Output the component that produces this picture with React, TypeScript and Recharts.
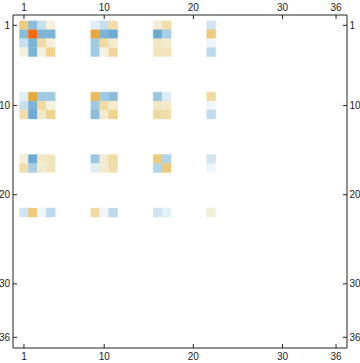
import React from 'react'
import { ScatterChart, Scatter, XAxis, YAxis, ReferenceArea } from 'recharts'

// rows / columns of the 36x36 matrix that hold non-zero entries
const indices = [1, 2, 3, 4, 9, 10, 11, 16, 17, 22]

// matrix values, one array per row in `indices`, columns in the same order
const row1 = [0.6, -0.6, -0.25, 0.08, -0.12, -0.25, 0.35, 0.1, 0.35, -0.2]
const row2 = [-0.6, 1.0, -0.7, -0.7, 0.8, -0.7, -0.8, -0.8, -0.4, 0.6]
const row3 = [-0.25, -0.7, 0.4, 0.08, -0.45, 0.4, 0.15, 0.22, 0.15, -0.05]
const row4 = [0.08, -0.7, 0.08, 0.5, -0.45, 0.05, 0.45, 0.25, 0.27, -0.3]
const row9 = [-0.12, 0.8, -0.45, -0.45, 0.7, -0.45, -0.6, -0.5, -0.13, 0.4]
const row10 = [-0.25, -0.7, 0.4, 0.05, -0.45, 0.4, 0.15, 0.2, 0.17, -0.05]
const row11 = [0.35, -0.8, 0.18, 0.5, -0.6, 0.15, 0.5, 0.42, 0.35, -0.28]
const row16 = [0.1, -0.8, 0.2, 0.25, -0.5, 0.15, 0.37, 0.6, -0.35, -0.2]
const row17 = [0.35, -0.4, 0.15, 0.25, -0.12, 0.15, 0.35, -0.35, 0.6, -0.07]
const row22 = [-0.2, 0.6, -0.06, -0.3, 0.4, -0.06, -0.3, -0.2, -0.1, 0.1]
const rows = [row1, row2, row3, row4, row9, row10, row11, row16, row17, row22]

const tickValues = [1, 10, 20, 30, 36]

// value -> colour, blue for negative, cream/gold/orange for positive
const stops: [number, string][] = [
  [-1.0, '#5fa3d0'],
  [-0.8, '#6babd3'],
  [-0.6, '#8bbddb'],
  [-0.4, '#a6cee5'],
  [-0.2, '#cfe4f0'],
  [-0.05, '#eef6fa'],
  [0, '#ffffff'],
  [0.05, '#f4f2e1'],
  [0.2, '#f2e7c3'],
  [0.4, '#f0daa0'],
  [0.6, '#edcb7c'],
  [0.8, '#e6a83a'],
  [1.0, '#ff6a00']
]

function hexToRgb(h: string) {
  return [1, 3, 5].map(i => parseInt(h.slice(i, i + 2), 16))
}

function colorFor(v: number) {
  if (v <= stops[0][0]) return stops[0][1]
  for (let i = 1; i < stops.length; i++) {
    const [v1, c1] = stops[i]
    if (v <= v1) {
      const [v0, c0] = stops[i - 1]
      const t = (v - v0) / (v1 - v0)
      const a = hexToRgb(c0)
      const b = hexToRgb(c1)
      const m = a.map((x, k) => Math.round(x + (b[k] - x) * t))
      return `rgb(${m[0]},${m[1]},${m[2]})`
    }
  }
  return stops[stops.length - 1][1]
}

const cells = rows.flatMap((r, ri) =>
  r.map((v, ci) => ({ x: indices[ci], y: indices[ri], v }))
)

const frameColor = '#222'
const tickFont = { fontFamily: '"Liberation Sans", Arial, sans-serif', fontSize: 10, fill: '#222' }

function FrameTick(props: any) {
  const { x, y, payload, side } = props
  const v = payload.value
  if (side === 'bottom') {
    return (
      <g>
        <line x1={x} y1={y} x2={x} y2={y - 4} stroke={frameColor} />
        <text x={x} y={y + 12} textAnchor="middle" {...tickFont}>{v}</text>
      </g>
    )
  }
  if (side === 'top') {
    return (
      <g>
        <line x1={x} y1={y} x2={x} y2={y + 4} stroke={frameColor} />
        <text x={x} y={y - 4.5} textAnchor="middle" {...tickFont}>{v}</text>
      </g>
    )
  }
  if (side === 'left') {
    return (
      <g>
        <line x1={x} y1={y} x2={x + 4} y2={y} stroke={frameColor} />
        <text x={x - 3} y={y + 3.6} textAnchor="end" {...tickFont}>{v}</text>
      </g>
    )
  }
  return (
    <g>
      <line x1={x} y1={y} x2={x - 4} y2={y} stroke={frameColor} />
      <text x={x + 2.5} y={y + 3.6} textAnchor="start" {...tickFont}>{v}</text>
    </g>
  )
}

const xDomain = [-0.23, 37.23]
const yDomain = [-0.16, 37.2]

export default function App() {
  return (
    <div style={{ position: 'absolute', left: 0, top: 0 }}>
      <ScatterChart width={360} height={363} margin={{ top: 0, right: 0, bottom: 0, left: 0 }}>
        <XAxis
          xAxisId="b"
          orientation="bottom"
          type="number"
          dataKey="x"
          domain={xDomain}
          allowDataOverflow
          ticks={tickValues}
          height={15}
          tickSize={0}
          tickMargin={0}
          tickLine={false}
          axisLine={{ stroke: frameColor }}
          tick={(p: any) => <FrameTick {...p} side="bottom" />}
        />
        <XAxis
          xAxisId="t"
          orientation="top"
          type="number"
          dataKey="x"
          domain={xDomain}
          allowDataOverflow
          ticks={tickValues}
          height={15}
          tickSize={0}
          tickMargin={0}
          tickLine={false}
          axisLine={{ stroke: frameColor }}
          tick={(p: any) => <FrameTick {...p} side="top" />}
        />
        <YAxis
          yAxisId="l"
          orientation="left"
          type="number"
          dataKey="y"
          domain={yDomain}
          allowDataOverflow
          reversed
          ticks={tickValues}
          width={13}
          tickSize={0}
          tickMargin={0}
          tickLine={false}
          axisLine={{ stroke: frameColor }}
          tick={(p: any) => <FrameTick {...p} side="left" />}
        />
        <YAxis
          yAxisId="r"
          orientation="right"
          type="number"
          dataKey="y"
          domain={yDomain}
          allowDataOverflow
          reversed
          ticks={tickValues}
          width={13}
          tickSize={0}
          tickMargin={0}
          tickLine={false}
          axisLine={{ stroke: frameColor }}
          tick={(p: any) => <FrameTick {...p} side="right" />}
        />
        {cells.map((c, i) => (
          <ReferenceArea
            key={i}
            xAxisId="b"
            yAxisId="l"
            x1={c.x - 0.5}
            x2={c.x + 0.5}
            y1={c.y - 0.5}
            y2={c.y + 0.5}
            fill={colorFor(c.v)}
            fillOpacity={1}
            stroke={colorFor(c.v)}
            strokeWidth={0.4}
            ifOverflow="visible"
          />
        ))}
        <Scatter xAxisId="b" yAxisId="l" data={cells} isAnimationActive={false} shape={() => <g />} />
        <Scatter xAxisId="t" yAxisId="r" data={cells} isAnimationActive={false} shape={() => <g />} />
      </ScatterChart>
    </div>
  )
}
